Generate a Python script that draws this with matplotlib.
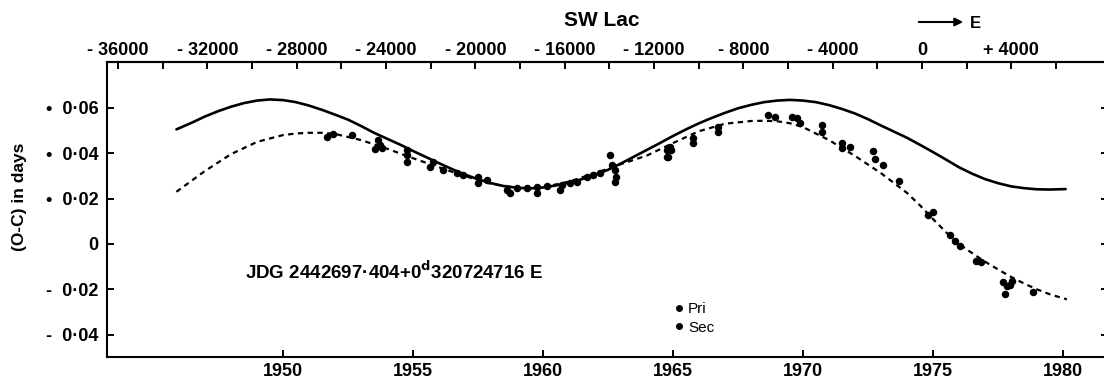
import matplotlib
matplotlib.use('Agg')
import matplotlib.pyplot as plt
from matplotlib.lines import Line2D
import numpy as np

plt.rcParams['font.family'] = ['Liberation Sans', 'DejaVu Sans']

# solid curve
solidYear = [1945.9, 1946.5, 1947.0, 1947.5, 1948.0, 1948.5, 1949.0, 1949.5, 1950.0,
			 1950.5, 1951.0, 1951.5, 1952.0, 1952.5, 1953.0, 1953.5, 1954.0, 1954.5,
			 1955.0, 1955.5, 1956.0, 1956.5, 1957.0, 1957.5, 1958.0, 1958.5, 1959.0,
			 1959.5, 1960.0, 1960.5, 1961.0, 1961.5, 1962.0, 1962.5, 1963.0, 1963.5,
			 1964.0, 1964.5, 1965.0, 1965.5, 1966.0, 1966.5, 1967.0, 1967.5, 1968.0,
			 1968.5, 1969.0, 1969.5, 1970.0, 1970.5, 1971.0, 1971.5, 1972.0, 1972.5,
			 1973.0, 1973.5, 1974.0, 1974.5, 1975.0, 1975.5, 1976.0, 1976.5, 1977.0,
			 1977.5, 1978.0, 1978.5, 1979.0, 1979.5, 1980.1]
solidOC = [0.0505, 0.0535, 0.0562, 0.0585, 0.0605, 0.0621, 0.0632, 0.0637, 0.0634,
		   0.0625, 0.0610, 0.0591, 0.0570, 0.0548, 0.0520, 0.0490, 0.0464, 0.0438,
		   0.0410, 0.0383, 0.0356, 0.0330, 0.0306, 0.0285, 0.0268, 0.0255, 0.0248,
		   0.0245, 0.0249, 0.0258, 0.0270, 0.0286, 0.0305, 0.0327, 0.0355, 0.0385,
		   0.0415, 0.0445, 0.0476, 0.0505, 0.0532, 0.0556, 0.0578, 0.0598, 0.0613,
		   0.0625, 0.0632, 0.0635, 0.0632, 0.0625, 0.0612, 0.0595, 0.0575, 0.0550,
		   0.0522, 0.0495, 0.0468, 0.0437, 0.0405, 0.0372, 0.0338, 0.0310, 0.0286,
		   0.0268, 0.0254, 0.0246, 0.0241, 0.0240, 0.0242]

# dashed curve
dashYear = [1945.9, 1947.0, 1948.0, 1949.0, 1950.0, 1950.5, 1951.0, 1951.5, 1952.0,
			1953.0, 1954.0, 1955.0, 1956.0, 1957.0, 1958.0, 1959.0, 1960.0, 1961.0,
			1962.0, 1963.0, 1964.0, 1965.0, 1966.0, 1967.0, 1968.0, 1968.5, 1969.0,
			1969.5, 1970.0, 1971.0, 1972.0, 1973.0, 1974.0, 1974.5, 1975.0, 1975.5,
			1976.0, 1976.5, 1977.0, 1977.5, 1978.0, 1978.5, 1979.0, 1979.5, 1980.15]
dashOC = [0.0230, 0.0322, 0.0396, 0.0450, 0.0480, 0.0487, 0.0490, 0.0490, 0.0485,
		  0.0458, 0.0420, 0.0378, 0.0338, 0.0299, 0.0265, 0.0248, 0.0250, 0.0275,
		  0.0312, 0.0352, 0.0390, 0.0445, 0.0497, 0.0530, 0.0542, 0.0543, 0.0541,
		  0.0532, 0.0515, 0.0458, 0.0388, 0.0312, 0.0225, 0.0170, 0.0110, 0.0052,
		  0.0000, -0.0040, -0.0078, -0.0112, -0.0145, -0.0174, -0.0200, -0.0222, -0.0244]

# observed minima
obsYear = [1951.68, 1951.92, 1952.64, 1953.65, 1953.73, 1953.54, 1953.8, 1954.76, 1954.76,
		   1954.76, 1955.77, 1955.65, 1956.15, 1956.68, 1956.92, 1957.5, 1957.5, 1957.83,
		   1958.73, 1958.6, 1958.99, 1959.37, 1959.76, 1959.76, 1960.14, 1960.65, 1960.72,
		   1961.04, 1961.3, 1961.68, 1961.94, 1962.19, 1962.58, 1962.64, 1962.77, 1962.77,
		   1962.8, 1964.82, 1964.94, 1964.76, 1964.88, 1964.76, 1965.78, 1965.78, 1966.74,
		   1966.74, 1968.67, 1968.92, 1969.56, 1969.76, 1969.88, 1970.72, 1970.72, 1971.49,
		   1971.81, 1971.49, 1972.7, 1972.77, 1973.06, 1973.7, 1974.99, 1974.82, 1975.65,
		   1975.85, 1976.04, 1976.65, 1976.84, 1977.7, 1977.96, 1978.03, 1977.77, 1977.85,
		   1978.83]
obsOC = [0.0473, 0.0485, 0.0480, 0.0458, 0.0436, 0.0417, 0.0421, 0.0414, 0.0392,
		 0.0363, 0.0363, 0.0341, 0.0326, 0.0314, 0.0304, 0.0297, 0.0267, 0.0282,
		 0.0223, 0.0238, 0.0245, 0.0245, 0.0223, 0.0252, 0.0255, 0.0238, 0.0260,
		 0.0267, 0.0274, 0.0297, 0.0304, 0.0311, 0.0392, 0.0348, 0.0326, 0.0274,
		 0.0297, 0.0385, 0.0414, 0.0414, 0.0429, 0.0382, 0.0465, 0.0444, 0.0517,
		 0.0495, 0.0568, 0.0561, 0.0561, 0.0554, 0.0532, 0.0524, 0.0495, 0.0444,
		 0.0429, 0.0421, 0.0411, 0.0373, 0.0348, 0.0277, 0.0142, 0.0128, 0.0040,
		 0.0015, -0.0009, -0.0073, -0.0078, -0.0166, -0.0181, -0.0162, -0.0220, -0.0185,
		 -0.0210]

yearTicks = [1950, 1955, 1960, 1965, 1970, 1975, 1980]
ocTicks = [0.06, 0.04, 0.02, 0.0, -0.02, -0.04]
ocLabels = ['\u2022  0\u00b706', '\u2022  0\u00b704', '\u2022  0\u00b702', '0', '-  0\u00b702', '-  0\u00b704']
epochTicks = [-36000, -32000, -28000, -24000, -20000, -16000, -12000, -8000, -4000, 0, 4000]
epochLabels = ['- 36000', '- 32000', '- 28000', '- 24000', '- 20000', '- 16000',
			   '- 12000', '- 8000', '- 4000', '0', '+ 4000']

# epoch scale as drawn on the top axis
E0_YEAR = 1974.577
YEAR_PER_E = 0.000859

def yearToE(y):
	return (np.asarray(y) - E0_YEAR) / YEAR_PER_E

def eToYear(e):
	return np.asarray(e) * YEAR_PER_E + E0_YEAR

W, H = 1104, 381
fig = plt.figure(figsize=(W / 100, H / 100), dpi=100)
ax = fig.add_axes([107 / W, 24 / H, (1108 - 107) / W, (357 - 62) / H])

ax.plot(solidYear, solidOC, color='k', lw=1.9, solid_capstyle='round', solid_joinstyle='round')
ax.plot(dashYear, dashOC, color='k', lw=1.6, linestyle=(0, (2.4, 2.0)))
ax.plot(obsYear, obsOC, 'o', color='k', markersize=5.4, markeredgewidth=0)

ax.set_xlim(1943.23, 1981.73)
ax.set_ylim(-0.0498, 0.0802)

for s in ['left', 'bottom', 'top', 'right']:
	ax.spines[s].set_linewidth(1.5)

ax.set_xticks(yearTicks)
ax.set_xticklabels([str(y) for y in yearTicks], fontsize=13, fontweight='bold')
ax.set_yticks(ocTicks)
ax.set_yticklabels(ocLabels, fontsize=13, fontweight='bold')
ax.tick_params(direction='in', length=5, width=1.4, pad=6, right=True)
ax.tick_params(axis='x', pad=4)

top = ax.secondary_xaxis('top', functions=(yearToE, eToYear))
top.set_xticks(epochTicks)
top.set_xticklabels(epochLabels, fontsize=13, fontweight='bold')
top.set_xticks(np.arange(-38000, 8000, 2000), minor=True)
top.tick_params(which='both', direction='in', length=5, width=1.4, pad=2)
top.spines['top'].set_linewidth(1.5)

ax.set_ylabel('(O-C) in days', fontsize=12.5, fontweight='bold')
ax.yaxis.set_label_coords(-80 / (1108 - 107), (244 - 197 + 113) / (357 - 62))

ax.text(1948.54, -0.0123, 'JDG 2442697\u00b7404+0$^{\\mathbf{d}}$320724716 E',
		fontsize=13.5, fontweight='bold', va='center')

handles = [Line2D([], [], marker='o', color='k', linestyle='none', markersize=4),
		   Line2D([], [], marker='o', color='k', linestyle='none', markersize=4)]
ax.legend(handles, ['Pri', 'Sec'], frameon=False, fontsize=11, handletextpad=0.1,
		  handlelength=1.0, labelspacing=0.3, loc='upper left',
		  bbox_to_anchor=((665 - 107) / (1108 - 107), (357 - 296) / (357 - 62)),
		  borderaxespad=0)

fig.text(602 / W, 1 - 21 / H, 'SW Lac', fontsize=15, fontweight='bold', ha='center', va='center')
ax.annotate('', xy=(966, H - 22), xytext=(916, H - 22), xycoords='figure pixels',
			textcoords='figure pixels',
			arrowprops=dict(arrowstyle='-|>', color='k', lw=1.5, mutation_scale=12))
fig.text(970 / W, 1 - 24 / H, 'E', fontsize=12, fontweight='bold', va='center')

fig.savefig('out.png', dpi=100)
